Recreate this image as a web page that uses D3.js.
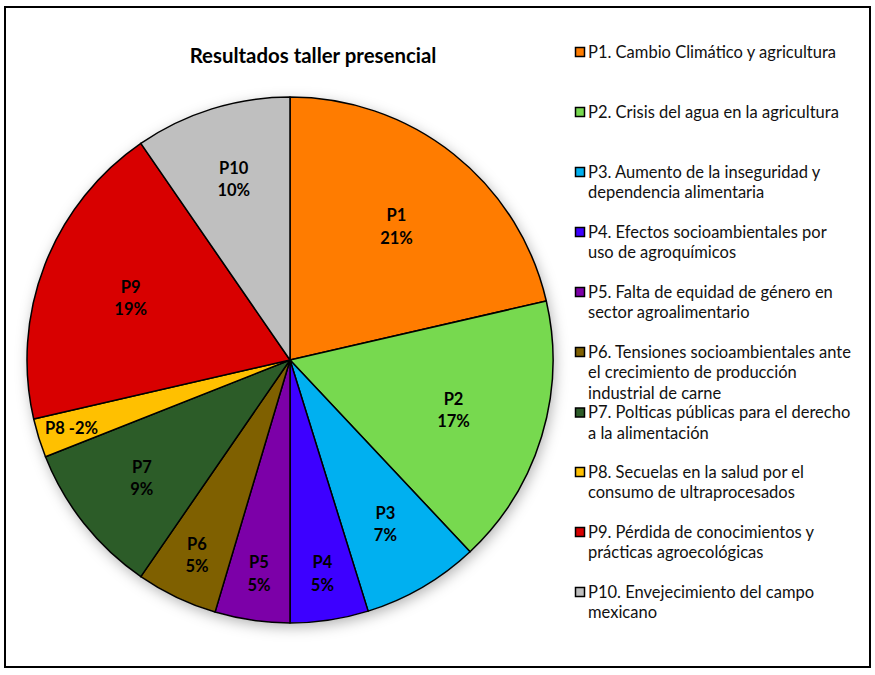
<!DOCTYPE html>
<html>
<head>
<meta charset="utf-8">
<script src="https://cdn.jsdelivr.net/npm/d3@7"></script>
<style>
  body { margin: 0; background: #fff; }
  svg { display: block; }
</style>
</head>
<body>
<div id="chart"></div>
<script>
// categorias y valores (porcentaje)
const categories = ['P1', 'P2', 'P3', 'P4', 'P5', 'P6', 'P7', 'P8', 'P9', 'P10'];
const values = [21.4, 16.6, 7.2, 4.8, 4.6, 5.0, 9.4, 2.4, 19.0, 9.6];
const colors = ['#ff7c00', '#77d94f', '#00b0f0', '#3d00ff', '#7c00a8',
                '#7f6000', '#2c5c28', '#ffc000', '#d80000', '#bfbfbf'];
const legendLines = [
    ['P1. Cambio Climático y agricultura'],
    ['P2. Crisis del agua en la agricultura'],
    ['P3. Aumento de la inseguridad y', 'dependencia alimentaria'],
    ['P4. Efectos socioambientales por', 'uso de agroquímicos'],
    ['P5. Falta de equidad de género en', 'sector agroalimentario'],
    ['P6. Tensiones socioambientales ante', 'el crecimiento de producción', 'industrial de carne'],
    ['P7. Polticas públicas para el derecho', 'a la alimentación'],
    ['P8. Secuelas en la salud por el', 'consumo de ultraprocesados'],
    ['P9. Pérdida de conocimientos y', 'prácticas agroecológicas'],
    ['P10. Envejecimiento del campo', 'mexicano']
];
const title = 'Resultados taller presencial';

const width = 875, height = 675;
const cx = 290, cy = 360, radius = 263;

const svg = d3.select('#chart').append('svg')
    .attr('width', width)
    .attr('height', height);

// marco exterior
svg.append('rect')
    .attr('x', 5).attr('y', 7)
    .attr('width', 865).attr('height', 660)
    .attr('fill', '#fff')
    .attr('stroke', '#000')
    .attr('stroke-width', 2);

const defs = svg.append('defs');
const shadow = defs.append('filter')
    .attr('id', 'pieShadow')
    .attr('x', '-20%').attr('y', '-20%')
    .attr('width', '140%').attr('height', '140%');
shadow.append('feDropShadow')
    .attr('dx', 2).attr('dy', 4)
    .attr('stdDeviation', 7)
    .attr('flood-color', '#000')
    .attr('flood-opacity', 0.3);

svg.append('text')
    .attr('x', 313).attr('y', 63)
    .attr('text-anchor', 'middle')
    .style('font-family', 'Lato, "Open Sans", sans-serif')
    .style('font-weight', 'bold')
    .style('font-size', '20.4px')
    .text(title);

const data = categories.map((c, i) => ({ name: c, value: values[i], color: colors[i] }));
const total = d3.sum(values);

const pie = d3.pie()
    .value(d => d.value)
    .sort(null);
const arcs = pie(data);

const arc = d3.arc()
    .innerRadius(0)
    .outerRadius(radius);

const g = svg.append('g')
    .attr('transform', `translate(${cx},${cy})`);

g.append('circle')
    .attr('r', radius)
    .attr('fill', '#fff')
    .attr('filter', 'url(#pieShadow)');

g.selectAll('path.slice')
    .data(arcs)
    .join('path')
    .attr('class', 'slice')
    .attr('d', arc)
    .attr('fill', d => d.data.color)
    .attr('stroke', '#000')
    .attr('stroke-width', 1.5)
    .attr('stroke-linejoin', 'round');

// posicion de etiquetas segun tamano de la rebanada
const labelFactor = v => v < 3 ? 0.87 : v < 6 ? 0.82 : v < 12 ? 0.72 : 0.65;
const pct = v => Math.round(v / total * 100) + '%';

const labels = g.selectAll('text.lbl')
    .data(arcs)
    .join('text')
    .attr('class', 'lbl')
    .attr('text-anchor', 'middle')
    .style('font-family', 'Lato, "Open Sans", sans-serif')
    .style('font-weight', 'bold')
    .style('font-size', '16.5px')
    .attr('transform', d => {
        const r = radius * labelFactor(d.data.value);
        const a = (d.startAngle + d.endAngle) / 2;
        return `translate(${Math.sin(a) * r},${-Math.cos(a) * r})`;
    });

labels.each(function(d) {
    const t = d3.select(this);
    if (d.data.value < 3) {
        t.append('tspan').attr('x', 0).attr('dy', '0.35em')
            .text(`${d.data.name} -${pct(d.data.value)}`);
    } else {
        t.append('tspan').attr('x', 0).attr('dy', '-0.3em').text(d.data.name);
        t.append('tspan').attr('x', 0).attr('dy', '1.35em').text(pct(d.data.value));
    }
});

// leyenda: cada entrada cada 60px, empujada si la anterior ocupa mas lineas
const lineH = 20.5;
const legendY = [];
legendLines.forEach((lines, i) => {
    let y = 52 + i * 60;
    if (i > 0) {
        const prevEnd = legendY[i - 1] + (legendLines[i - 1].length - 1) * lineH;
        y = Math.max(y, prevEnd + 19.5);
    }
    legendY.push(y);
});

const legend = svg.append('g');
const legendItems = legend.selectAll('g.item')
    .data(data)
    .join('g')
    .attr('class', 'item')
    .attr('transform', (d, i) => `translate(575,${legendY[i]})`);

legendItems.append('rect')
    .attr('x', 0.5).attr('y', -4.5)
    .attr('width', 9).attr('height', 9)
    .attr('fill', d => d.color)
    .attr('stroke', '#000')
    .attr('stroke-width', 1.5);

legendItems.append('text')
    .style('font-family', 'Lato, "Open Sans", sans-serif')
    .style('font-size', '16.5px')
    .attr('fill', '#111')
    .each(function(d, i) {
        const t = d3.select(this);
        legendLines[i].forEach((line, j) => {
            t.append('tspan')
                .attr('x', 13)
                .attr('y', j * lineH)
                .attr('dy', '0.35em')
                .text(line);
        });
    });
</script>
</body>
</html>
